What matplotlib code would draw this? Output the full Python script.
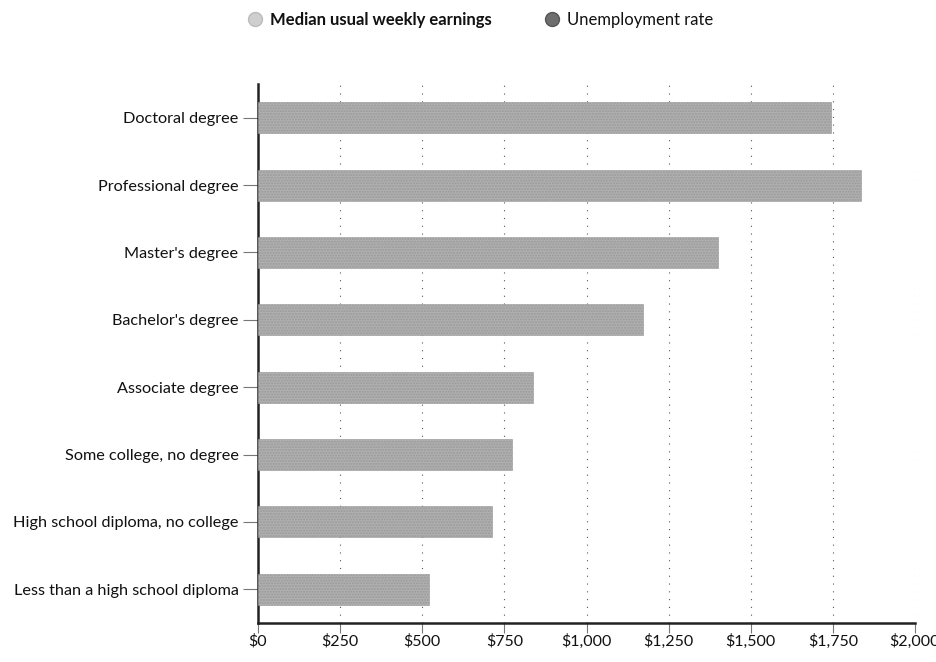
import matplotlib
matplotlib.use("Agg")
import matplotlib.pyplot as plt
from matplotlib.lines import Line2D
from matplotlib.ticker import FuncFormatter

plt.rcParams['font.family'] = ['Lato', 'DejaVu Sans']

categories = [
    "Doctoral degree",
    "Professional degree",
    "Master's degree",
    "Bachelor's degree",
    "Associate degree",
    "Some college, no degree",
    "High school diploma, no college",
    "Less than a high school diploma",
]
earnings = [1743, 1836, 1401, 1173, 836, 774, 712, 520]
xticks = [0, 250, 500, 750, 1000, 1250, 1500, 1750, 2000]
legend_labels = ["Median usual weekly earnings", "Unemployment rate"]

fig = plt.figure(figsize=(9.37, 6.62), dpi=100)
ax = fig.add_axes([258 / 937, 1 - 623 / 662, (915 - 258) / 937, (623 - 84) / 662])

ypos = list(range(len(categories)))
ax.barh(ypos, earnings, height=0.46, color='#b0b0b0', edgecolor='#999999',
        linewidth=0.4, hatch='......', zorder=3)

ax.set_ylim(len(categories) - 0.5, -0.5)
ax.set_xlim(0, 2000)
ax.set_yticks(ypos)
ax.set_yticklabels(categories, fontsize=11.7, color='#111111')
ax.set_xticks(xticks)
ax.xaxis.set_major_formatter(FuncFormatter(lambda v, p: f"${int(v):,}"))
for lab in ax.get_xticklabels():
    lab.set_fontsize(11.5)
    lab.set_color('#111111')

ax.grid(axis='x', linestyle=(0, (1, 6)), color='#555555', linewidth=0.8, zorder=0)
for s in ['top', 'right']:
    ax.spines[s].set_visible(False)
for s in ['left', 'bottom']:
    ax.spines[s].set_color('#222222')
    ax.spines[s].set_linewidth(1.8)

ax.tick_params(axis='y', length=11, width=0.8, color='#777777', pad=3)
ax.tick_params(axis='x', length=7, width=0.8, color='#777777', pad=1)
for t in ax.yaxis.get_major_ticks() + ax.xaxis.get_major_ticks():
    t.tick1line.set_linestyle((0, (1, 1.5)))

handles = [
    Line2D([], [], marker='o', linestyle='none', markersize=10,
           markerfacecolor='#cfcfcf', markeredgecolor='#bbbbbb'),
    Line2D([], [], marker='o', linestyle='none', markersize=10,
           markerfacecolor='#6e6e6e', markeredgecolor='#555555'),
]
leg = fig.legend(handles, legend_labels, loc='center', bbox_to_anchor=(479 / 937, 1 - 20 / 662),
                 ncol=2, frameon=False, fontsize=12, columnspacing=3.0,
                 handletextpad=0.3, handlelength=1.2)
leg.get_texts()[0].set_fontweight('bold')
for t in leg.get_texts():
    t.set_color('#111111')

fig.savefig("out.png", dpi=100)
